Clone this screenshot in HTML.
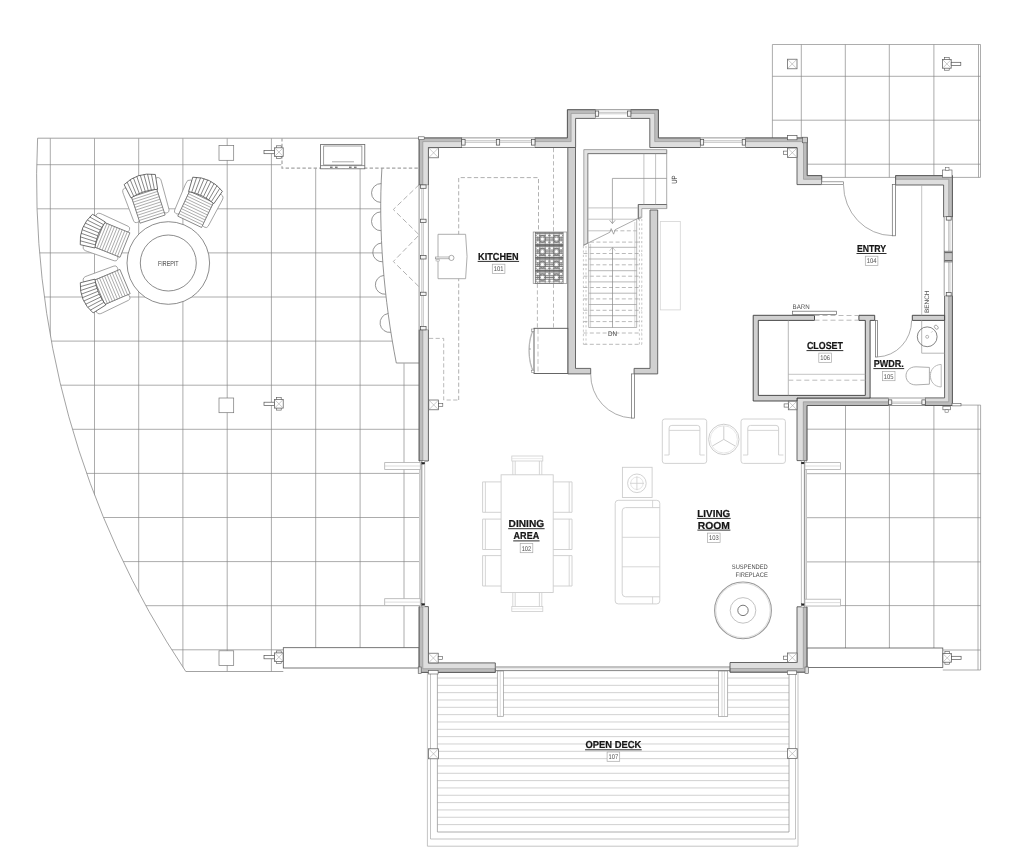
<!DOCTYPE html><html><head><meta charset="utf-8"><style>html,body{margin:0;padding:0;background:#fff}svg{display:block;filter:grayscale(1) blur(0.35px)}text{font-family:"Liberation Sans",sans-serif;text-rendering:geometricPrecision}</style></head><body><svg width="1030" height="866" viewBox="0 0 1030 866"><clipPath id="cpL"><path d="M37.6,138.2 L419,138.2 L419,672 L185.8,671.5 A883.2,883.2 0 0 1 37.6,138.2 Z"/></clipPath>
<g clip-path="url(#cpL)">
<line x1="50.3" y1="138.2" x2="50.3" y2="671.5" stroke="#848484" stroke-width="0.68" />
<line x1="94.5" y1="138.2" x2="94.5" y2="671.5" stroke="#848484" stroke-width="0.68" />
<line x1="138.7" y1="138.2" x2="138.7" y2="671.5" stroke="#848484" stroke-width="0.68" />
<line x1="182.9" y1="138.2" x2="182.9" y2="671.5" stroke="#848484" stroke-width="0.68" />
<line x1="227.2" y1="138.2" x2="227.2" y2="671.5" stroke="#848484" stroke-width="0.68" />
<line x1="271.4" y1="138.2" x2="271.4" y2="671.5" stroke="#848484" stroke-width="0.68" />
<line x1="315.7" y1="168.3" x2="315.7" y2="647.7" stroke="#848484" stroke-width="0.68" />
<line x1="360.1" y1="168.3" x2="360.1" y2="647.7" stroke="#848484" stroke-width="0.68" />
<line x1="404" y1="363.4" x2="404" y2="647.7" stroke="#848484" stroke-width="0.68" />
<line x1="0" y1="164.7" x2="281.3" y2="164.7" stroke="#848484" stroke-width="0.68" />
<line x1="0" y1="208.8" x2="380.72160435" y2="208.8" stroke="#848484" stroke-width="0.68" />
<line x1="0" y1="252.9" x2="382.19525760000005" y2="252.9" stroke="#848484" stroke-width="0.68" />
<line x1="0" y1="297" x2="386.0803344" y2="297" stroke="#848484" stroke-width="0.68" />
<line x1="0" y1="341.1" x2="392.31192765000003" y2="341.1" stroke="#848484" stroke-width="0.68" />
<line x1="0" y1="385.2" x2="419" y2="385.2" stroke="#848484" stroke-width="0.68" />
<line x1="0" y1="429.3" x2="419" y2="429.3" stroke="#848484" stroke-width="0.68" />
<line x1="0" y1="473.4" x2="419" y2="473.4" stroke="#848484" stroke-width="0.68" />
<line x1="0" y1="517.5" x2="419" y2="517.5" stroke="#848484" stroke-width="0.68" />
<line x1="0" y1="561.6" x2="419" y2="561.6" stroke="#848484" stroke-width="0.68" />
<line x1="0" y1="605.7" x2="419" y2="605.7" stroke="#848484" stroke-width="0.68" />
<line x1="0" y1="649.8" x2="283.3" y2="649.8" stroke="#848484" stroke-width="0.68" />
</g>
<path d="M419,138.2 L37.6,138.2 A883.2,883.2 0 0 0 185.8,671.5 L283.3,671.5" fill="none" stroke="#848484" stroke-width="0.75" />
<path d="M282,138.2 L282,168.2 L419,168.2" fill="none" stroke="#a4a4a4" stroke-width="1.2" stroke-dasharray="3.4 2.2"/>
<rect x="219.00" y="145.60" width="14.70" height="14.70" fill="#fff" stroke="#777" stroke-width="0.7" />
<rect x="219.00" y="398.00" width="14.70" height="14.70" fill="#fff" stroke="#777" stroke-width="0.7" />
<rect x="219.00" y="650.80" width="14.70" height="14.70" fill="#fff" stroke="#777" stroke-width="0.7" />
<rect x="276.60" y="145.80" width="4.60" height="12.60" fill="#fff" stroke="#555" stroke-width="0.6" />
<rect x="274.60" y="147.80" width="8.60" height="8.60" fill="#fff" stroke="#555" stroke-width="0.7" />
<line x1="274.6" y1="147.8" x2="283.20000000000005" y2="156.4" stroke="#999" stroke-width="0.5" />
<line x1="283.20000000000005" y1="147.8" x2="274.6" y2="156.4" stroke="#999" stroke-width="0.5" />
<rect x="264.00" y="150.50" width="10.60" height="3.20" fill="#fff" stroke="#555" stroke-width="0.7" />
<rect x="276.60" y="397.50" width="4.60" height="12.60" fill="#fff" stroke="#555" stroke-width="0.6" />
<rect x="274.60" y="399.50" width="8.60" height="8.60" fill="#fff" stroke="#555" stroke-width="0.7" />
<line x1="274.6" y1="399.5" x2="283.20000000000005" y2="408.1" stroke="#999" stroke-width="0.5" />
<line x1="283.20000000000005" y1="399.5" x2="274.6" y2="408.1" stroke="#999" stroke-width="0.5" />
<rect x="264.00" y="402.20" width="10.60" height="3.20" fill="#fff" stroke="#555" stroke-width="0.7" />
<rect x="276.60" y="650.90" width="4.60" height="12.60" fill="#fff" stroke="#555" stroke-width="0.6" />
<rect x="274.60" y="652.90" width="8.60" height="8.60" fill="#fff" stroke="#555" stroke-width="0.7" />
<line x1="274.6" y1="652.9" x2="283.20000000000005" y2="661.5" stroke="#999" stroke-width="0.5" />
<line x1="283.20000000000005" y1="652.9" x2="274.6" y2="661.5" stroke="#999" stroke-width="0.5" />
<rect x="264.00" y="655.60" width="10.60" height="3.20" fill="#fff" stroke="#555" stroke-width="0.7" />
<rect x="320.60" y="144.40" width="44.20" height="24.40" fill="#fff" stroke="#666" stroke-width="0.8" />
<rect x="323.70" y="146.00" width="38.20" height="19.00" fill="#fff" stroke="#777" stroke-width="0.7" />
<line x1="320.6" y1="165.6" x2="364.8" y2="165.6" stroke="#666" stroke-width="0.7" />
<line x1="332" y1="161.8" x2="354" y2="161.8" stroke="#aaa" stroke-width="1.0" />
<line x1="330" y1="167.2" x2="332.6" y2="167.2" stroke="#444" stroke-width="1.0" />
<line x1="335" y1="167.2" x2="337.6" y2="167.2" stroke="#444" stroke-width="1.0" />
<line x1="349" y1="167.2" x2="351.6" y2="167.2" stroke="#444" stroke-width="1.0" />
<line x1="354" y1="167.2" x2="356.6" y2="167.2" stroke="#444" stroke-width="1.0" />
<path d="M381.9,168.4 C378,230 384,300 396.3,363 L419.2,363" fill="none" stroke="#7a7a7a" stroke-width="0.8" />
<path d="M381.2,183.6 A9.4,9.4 0 0 0 380.7,202.4" fill="none" stroke="#7a7a7a" stroke-width="0.8" />
<path d="M380.7,211.9 A9.4,9.4 0 0 0 381.1,230.70000000000002" fill="none" stroke="#7a7a7a" stroke-width="0.8" />
<path d="M381.6,243.0 A9.4,9.4 0 0 0 382.8,261.8" fill="none" stroke="#7a7a7a" stroke-width="0.8" />
<path d="M383.9,275.40000000000003 A9.4,9.4 0 0 0 385.7,294.2" fill="none" stroke="#7a7a7a" stroke-width="0.8" />
<path d="M388.2,313.5 A9.4,9.4 0 0 0 390.9,332.29999999999995" fill="none" stroke="#7a7a7a" stroke-width="0.8" />
<path d="M419.2,184.6 L393.3,209.5 L419.2,234.9 L393.3,261.5 L419.2,286.9" fill="none" stroke="#b0b0b0" stroke-width="1.0" stroke-dasharray="5.4 2.8"/>
<rect x="283.30" y="647.70" width="135.90" height="20.30" fill="#fff" stroke="#555" stroke-width="0.8" />
<line x1="801.3" y1="44.5" x2="801.3" y2="138" stroke="#848484" stroke-width="0.68" />
<line x1="845.3" y1="44.5" x2="845.3" y2="177.4" stroke="#848484" stroke-width="0.68" />
<line x1="889.3" y1="44.5" x2="889.3" y2="177.4" stroke="#848484" stroke-width="0.68" />
<line x1="933.9" y1="44.5" x2="933.9" y2="175.6" stroke="#848484" stroke-width="0.68" />
<line x1="978.5" y1="44.5" x2="978.5" y2="177.4" stroke="#848484" stroke-width="0.68" />
<line x1="772.4" y1="76.3" x2="980.5" y2="76.3" stroke="#848484" stroke-width="0.68" />
<line x1="772.4" y1="120.2" x2="980.5" y2="120.2" stroke="#848484" stroke-width="0.68" />
<line x1="807.2" y1="164.2" x2="980.5" y2="164.2" stroke="#848484" stroke-width="0.68" />
<path d="M772.4,138 L772.4,44.5 L980.5,44.5 L980.5,177.4 L952.4,177.4" fill="none" stroke="#8a8a8a" stroke-width="0.7" />
<line x1="807.2" y1="177.4" x2="895.6" y2="177.4" stroke="#8a8a8a" stroke-width="0.7" />
<rect x="787.40" y="59.20" width="9.60" height="9.60" fill="#fff" stroke="#555" stroke-width="0.7" />
<line x1="787.4" y1="59.2" x2="797.0" y2="68.8" stroke="#999" stroke-width="0.5" />
<line x1="797.0" y1="59.2" x2="787.4" y2="68.8" stroke="#999" stroke-width="0.5" />
<rect x="944.60" y="57.60" width="4.60" height="12.60" fill="#fff" stroke="#555" stroke-width="0.6" />
<rect x="942.60" y="59.60" width="8.60" height="8.60" fill="#fff" stroke="#555" stroke-width="0.7" />
<line x1="942.6" y1="59.6" x2="951.2" y2="68.2" stroke="#999" stroke-width="0.5" />
<line x1="951.2" y1="59.6" x2="942.6" y2="68.2" stroke="#999" stroke-width="0.5" />
<rect x="951.20" y="62.30" width="9.60" height="3.20" fill="#fff" stroke="#555" stroke-width="0.7" />
<line x1="845.5" y1="405.5" x2="845.5" y2="648" stroke="#848484" stroke-width="0.68" />
<line x1="889.4" y1="405.5" x2="889.4" y2="648" stroke="#848484" stroke-width="0.68" />
<line x1="933.9" y1="405.5" x2="933.9" y2="648" stroke="#848484" stroke-width="0.68" />
<line x1="978.0" y1="405.1" x2="978.0" y2="670" stroke="#848484" stroke-width="0.68" />
<line x1="807" y1="429.2" x2="980.6" y2="429.2" stroke="#848484" stroke-width="0.68" />
<line x1="807" y1="473.7" x2="980.6" y2="473.7" stroke="#848484" stroke-width="0.68" />
<line x1="807" y1="517.7" x2="980.6" y2="517.7" stroke="#848484" stroke-width="0.68" />
<line x1="807" y1="561.9" x2="980.6" y2="561.9" stroke="#848484" stroke-width="0.68" />
<line x1="807" y1="605.6" x2="980.6" y2="605.6" stroke="#848484" stroke-width="0.68" />
<line x1="942.8" y1="650" x2="980.6" y2="650" stroke="#848484" stroke-width="0.68" />
<path d="M952.4,405.1 L980.6,405.1 L980.6,670 L942.8,670" fill="none" stroke="#8a8a8a" stroke-width="0.7" />
<rect x="806.80" y="648.00" width="136.00" height="19.60" fill="#fff" stroke="#555" stroke-width="0.8" />
<rect x="944.90" y="651.60" width="4.60" height="12.60" fill="#fff" stroke="#555" stroke-width="0.6" />
<rect x="942.90" y="653.60" width="8.60" height="8.60" fill="#fff" stroke="#555" stroke-width="0.7" />
<line x1="942.9" y1="653.6" x2="951.5" y2="662.2" stroke="#999" stroke-width="0.5" />
<line x1="951.5" y1="653.6" x2="942.9" y2="662.2" stroke="#999" stroke-width="0.5" />
<rect x="951.50" y="656.30" width="9.60" height="3.20" fill="#fff" stroke="#555" stroke-width="0.7" />
<line x1="437.4" y1="678.00" x2="789" y2="678.00" stroke="#b8b8b8" stroke-width="0.65" />
<line x1="437.4" y1="685.33" x2="789" y2="685.33" stroke="#b8b8b8" stroke-width="0.65" />
<line x1="437.4" y1="692.66" x2="789" y2="692.66" stroke="#b8b8b8" stroke-width="0.65" />
<line x1="437.4" y1="699.99" x2="789" y2="699.99" stroke="#b8b8b8" stroke-width="0.65" />
<line x1="437.4" y1="707.32" x2="789" y2="707.32" stroke="#b8b8b8" stroke-width="0.65" />
<line x1="437.4" y1="714.65" x2="789" y2="714.65" stroke="#b8b8b8" stroke-width="0.65" />
<line x1="437.4" y1="721.98" x2="789" y2="721.98" stroke="#b8b8b8" stroke-width="0.65" />
<line x1="437.4" y1="729.31" x2="789" y2="729.31" stroke="#b8b8b8" stroke-width="0.65" />
<line x1="437.4" y1="736.64" x2="789" y2="736.64" stroke="#b8b8b8" stroke-width="0.65" />
<line x1="437.4" y1="743.97" x2="789" y2="743.97" stroke="#b8b8b8" stroke-width="0.65" />
<line x1="437.4" y1="751.30" x2="789" y2="751.30" stroke="#b8b8b8" stroke-width="0.65" />
<line x1="437.4" y1="758.63" x2="789" y2="758.63" stroke="#b8b8b8" stroke-width="0.65" />
<line x1="437.4" y1="765.96" x2="789" y2="765.96" stroke="#b8b8b8" stroke-width="0.65" />
<line x1="437.4" y1="773.29" x2="789" y2="773.29" stroke="#b8b8b8" stroke-width="0.65" />
<line x1="437.4" y1="780.62" x2="789" y2="780.62" stroke="#b8b8b8" stroke-width="0.65" />
<line x1="437.4" y1="787.95" x2="789" y2="787.95" stroke="#b8b8b8" stroke-width="0.65" />
<line x1="437.4" y1="795.28" x2="789" y2="795.28" stroke="#b8b8b8" stroke-width="0.65" />
<line x1="437.4" y1="802.61" x2="789" y2="802.61" stroke="#b8b8b8" stroke-width="0.65" />
<line x1="437.4" y1="809.94" x2="789" y2="809.94" stroke="#b8b8b8" stroke-width="0.65" />
<line x1="437.4" y1="817.27" x2="789" y2="817.27" stroke="#b8b8b8" stroke-width="0.65" />
<line x1="437.4" y1="824.60" x2="789" y2="824.60" stroke="#b8b8b8" stroke-width="0.65" />
<path d="M437.4,672 L437.4,832 L789,832 L789,672" fill="none" stroke="#999" stroke-width="0.8" />
<path d="M430.5,672 L430.5,839 L795.5,839 L795.5,672" fill="none" stroke="#aaa" stroke-width="0.7" />
<path d="M427.4,672 L427.4,846.2 L798,846.2 L798,672" fill="none" stroke="#aaa" stroke-width="0.7" />
<rect x="497.30" y="671.00" width="6.10" height="45.30" fill="#fff" stroke="#999" stroke-width="0.7" />
<line x1="500.3" y1="671" x2="500.3" y2="716.3" stroke="#bbb" stroke-width="0.5" />
<rect x="718.60" y="671.00" width="9.10" height="45.40" fill="#fff" stroke="#999" stroke-width="0.7" />
<line x1="722" y1="671" x2="722" y2="716.4" stroke="#aaa" stroke-width="0.5" />
<line x1="724.4" y1="671" x2="724.4" y2="716.4" stroke="#aaa" stroke-width="0.5" />
<rect x="428.50" y="748.80" width="10.00" height="10.00" fill="#fff" stroke="#555" stroke-width="0.7" />
<line x1="428.5" y1="748.8" x2="438.5" y2="758.8" stroke="#999" stroke-width="0.5" />
<line x1="438.5" y1="748.8" x2="428.5" y2="758.8" stroke="#999" stroke-width="0.5" />
<rect x="787.40" y="748.70" width="9.80" height="9.80" fill="#fff" stroke="#555" stroke-width="0.7" />
<line x1="787.4" y1="748.7" x2="797.1999999999999" y2="758.5" stroke="#999" stroke-width="0.5" />
<line x1="797.1999999999999" y1="748.7" x2="787.4" y2="758.5" stroke="#999" stroke-width="0.5" />
<line x1="496" y1="667" x2="730" y2="667" stroke="#666" stroke-width="0.8" />
<line x1="496" y1="670.6" x2="730" y2="670.6" stroke="#666" stroke-width="0.8" />
<line x1="496" y1="668.8" x2="730" y2="668.8" stroke="#bbb" stroke-width="0.5" />
<polygon points="419.1,137.9 462,137.9 462,147.5 428.4,147.5 428.4,185.2 419.1,185.2" fill="#dedede" stroke="none" stroke-width="0" />
<polygon points="419.1,137.9 462,137.9 462,141.6 422.8,141.6 422.8,185.2 419.1,185.2" fill="#bcbcbc" stroke="#8c8c8c" stroke-width="0.6" />
<polygon points="419.1,137.9 462,137.9 462,147.5 428.4,147.5 428.4,185.2 419.1,185.2" fill="none" stroke="#4c4c4c" stroke-width="0.85" />
<polygon points="534.7,137.9 567.4,137.9 567.4,109.7 595.6,109.7 595.6,118.4 575.6,118.4 575.6,147.5 534.7,147.5" fill="#dedede" stroke="none" stroke-width="0" />
<polygon points="534.7,137.9 567.4,137.9 567.4,109.7 595.6,109.7 595.6,113.4 571.1,113.4 571.1,141.6 534.7,141.6" fill="#bcbcbc" stroke="#8c8c8c" stroke-width="0.6" />
<polygon points="534.7,137.9 567.4,137.9 567.4,109.7 595.6,109.7 595.6,118.4 575.6,118.4 575.6,147.5 534.7,147.5" fill="none" stroke="#4c4c4c" stroke-width="0.85" />
<polygon points="630.6,109.7 658.4,109.7 658.4,137.9 700.6,137.9 700.6,147.5 649.8,147.5 649.8,118.4 630.6,118.4" fill="#dedede" stroke="none" stroke-width="0" />
<polygon points="630.6,109.7 658.4,109.7 658.4,137.9 700.6,137.9 700.6,141.6 654.6999999999999,141.6 654.6999999999999,113.4 630.6,113.4" fill="#bcbcbc" stroke="#8c8c8c" stroke-width="0.6" />
<polygon points="630.6,109.7 658.4,109.7 658.4,137.9 700.6,137.9 700.6,147.5 649.8,147.5 649.8,118.4 630.6,118.4" fill="none" stroke="#4c4c4c" stroke-width="0.85" />
<polygon points="745.3,137.9 807.2,137.9 807.2,175.6 821.7,175.6 821.7,184.6 797,184.6 797,147.5 745.3,147.5" fill="#dedede" stroke="none" stroke-width="0" />
<polygon points="745.3,137.9 807.2,137.9 807.2,175.6 821.7,175.6 821.7,179.29999999999998 803.5,179.29999999999998 803.5,141.6 745.3,141.6" fill="#bcbcbc" stroke="#8c8c8c" stroke-width="0.6" />
<polygon points="745.3,137.9 807.2,137.9 807.2,175.6 821.7,175.6 821.7,184.6 797,184.6 797,147.5 745.3,147.5" fill="none" stroke="#4c4c4c" stroke-width="0.85" />
<polygon points="895.6,175.6 952.4,175.6 952.4,217 943.6,217 943.6,185 895.6,185" fill="#dedede" stroke="none" stroke-width="0" />
<polygon points="895.6,175.6 952.4,175.6 952.4,217 948.6999999999999,217 948.6999999999999,179.29999999999998 895.6,179.29999999999998" fill="#bcbcbc" stroke="#8c8c8c" stroke-width="0.6" />
<polygon points="895.6,175.6 952.4,175.6 952.4,217 943.6,217 943.6,185 895.6,185" fill="none" stroke="#4c4c4c" stroke-width="0.85" />
<polygon points="944.6,295.6 952.4,295.6 952.4,405.5 925,405.5 925,397.9 944.6,397.9" fill="#dedede" stroke="none" stroke-width="0" />
<polygon points="948.6999999999999,295.6 952.4,295.6 952.4,405.5 925,405.5 925,401.8 948.6999999999999,401.8" fill="#bcbcbc" stroke="#8c8c8c" stroke-width="0.6" />
<polygon points="944.6,295.6 952.4,295.6 952.4,405.5 925,405.5 925,397.9 944.6,397.9" fill="none" stroke="#4c4c4c" stroke-width="0.85" />
<polygon points="797,398 888.7,398 888.7,405.5 807,405.5 807,460.6 797,460.6" fill="#dedede" stroke="none" stroke-width="0" />
<polygon points="803.3,401.8 888.7,401.8 888.7,405.5 807,405.5 807,460.6 803.3,460.6" fill="#bcbcbc" stroke="#8c8c8c" stroke-width="0.6" />
<polygon points="797,398 888.7,398 888.7,405.5 807,405.5 807,460.6 797,460.6" fill="none" stroke="#4c4c4c" stroke-width="0.85" />
<polygon points="797,606.8 807,606.8 807,672.2 730,672.2 730,662.5 797,662.5" fill="#dedede" stroke="none" stroke-width="0" />
<polygon points="803.3,606.8 807,606.8 807,672.2 730,672.2 730,668.5 803.3,668.5" fill="#bcbcbc" stroke="#8c8c8c" stroke-width="0.6" />
<polygon points="797,606.8 807,606.8 807,672.2 730,672.2 730,662.5 797,662.5" fill="none" stroke="#4c4c4c" stroke-width="0.85" />
<polygon points="419.1,606.6 428.4,606.6 428.4,662.9 495.3,662.9 495.3,672.4 419.1,672.4" fill="#dedede" stroke="none" stroke-width="0" />
<polygon points="419.1,606.6 422.8,606.6 422.8,668.6999999999999 495.3,668.6999999999999 495.3,672.4 419.1,672.4" fill="#bcbcbc" stroke="#8c8c8c" stroke-width="0.6" />
<polygon points="419.1,606.6 428.4,606.6 428.4,662.9 495.3,662.9 495.3,672.4 419.1,672.4" fill="none" stroke="#4c4c4c" stroke-width="0.85" />
<polygon points="419.1,329.6 428.4,329.6 428.4,461 419.1,461" fill="#dedede" stroke="none" stroke-width="0" />
<polygon points="419.1,329.6 422.8,329.6 422.8,461 419.1,461" fill="#bcbcbc" stroke="#8c8c8c" stroke-width="0.6" />
<polygon points="419.1,329.6 428.4,329.6 428.4,461 419.1,461" fill="none" stroke="#4c4c4c" stroke-width="0.85" />
<polygon points="567.8,147.5 575.5,147.5 575.5,368.4 590.7,368.4 590.7,373.9 567.8,373.9" fill="#d0d0d0" stroke="#505050" stroke-width="0.85" />
<polygon points="650,210 657.7,210 657.7,373.9 634.1,373.9 634.1,368.4 650,368.4" fill="#d0d0d0" stroke="#505050" stroke-width="0.85" />
<polygon points="753.2,315.3 814.5,315.3 814.5,320.4 758.3,320.4 758.3,395.4 865.3,395.4 865.3,320.4 858.9,320.4 858.9,315.3 874.7,315.3 874.7,320.4 870.1,320.4 870.1,398 797,398 797,401 753.2,401" fill="#d0d0d0" stroke="#3a3a3a" stroke-width="0.9" />
<polygon points="912.3,315.3 944.6,315.3 944.6,320.4 912.3,320.4" fill="#d0d0d0" stroke="#3a3a3a" stroke-width="0.9" />
<rect x="462.00" y="137.90" width="72.70" height="9.60" fill="#fff" stroke="none" stroke-width="0" />
<line x1="462" y1="137.9" x2="534.7" y2="137.9" stroke="#666" stroke-width="0.7" />
<line x1="462" y1="147.5" x2="534.7" y2="147.5" stroke="#777" stroke-width="0.7" />
<line x1="462" y1="140.78" x2="534.7" y2="140.78" stroke="#999" stroke-width="0.6" />
<line x1="462" y1="142.412" x2="534.7" y2="142.412" stroke="#aaa" stroke-width="0.6" />
<rect x="496.30" y="139.34" width="3.40" height="5.76" fill="#f4f4f4" stroke="#4a4a4a" stroke-width="0.7" />
<rect x="461.70" y="139.34" width="3.40" height="5.76" fill="#f4f4f4" stroke="#4a4a4a" stroke-width="0.7" />
<rect x="531.60" y="139.34" width="3.40" height="5.76" fill="#f4f4f4" stroke="#4a4a4a" stroke-width="0.7" />
<rect x="595.60" y="109.70" width="35.00" height="8.70" fill="#fff" stroke="none" stroke-width="0" />
<line x1="595.6" y1="109.7" x2="630.6" y2="109.7" stroke="#666" stroke-width="0.7" />
<line x1="595.6" y1="118.4" x2="630.6" y2="118.4" stroke="#777" stroke-width="0.7" />
<line x1="595.6" y1="112.31" x2="630.6" y2="112.31" stroke="#999" stroke-width="0.6" />
<line x1="595.6" y1="113.789" x2="630.6" y2="113.789" stroke="#aaa" stroke-width="0.6" />
<rect x="595.30" y="111.01" width="3.40" height="5.22" fill="#f4f4f4" stroke="#4a4a4a" stroke-width="0.7" />
<rect x="627.50" y="111.01" width="3.40" height="5.22" fill="#f4f4f4" stroke="#4a4a4a" stroke-width="0.7" />
<rect x="700.60" y="137.90" width="44.70" height="9.60" fill="#fff" stroke="none" stroke-width="0" />
<line x1="700.6" y1="137.9" x2="745.3" y2="137.9" stroke="#666" stroke-width="0.7" />
<line x1="700.6" y1="147.5" x2="745.3" y2="147.5" stroke="#777" stroke-width="0.7" />
<line x1="700.6" y1="140.78" x2="745.3" y2="140.78" stroke="#999" stroke-width="0.6" />
<line x1="700.6" y1="142.412" x2="745.3" y2="142.412" stroke="#aaa" stroke-width="0.6" />
<rect x="700.30" y="139.34" width="3.40" height="5.76" fill="#f4f4f4" stroke="#4a4a4a" stroke-width="0.7" />
<rect x="742.20" y="139.34" width="3.40" height="5.76" fill="#f4f4f4" stroke="#4a4a4a" stroke-width="0.7" />
<rect x="888.70" y="398.00" width="36.30" height="7.50" fill="#fff" stroke="none" stroke-width="0" />
<line x1="888.7" y1="405.5" x2="925" y2="405.5" stroke="#666" stroke-width="0.7" />
<line x1="888.7" y1="398" x2="925" y2="398" stroke="#777" stroke-width="0.7" />
<line x1="888.7" y1="403.25" x2="925" y2="403.25" stroke="#999" stroke-width="0.6" />
<line x1="888.7" y1="401.975" x2="925" y2="401.975" stroke="#aaa" stroke-width="0.6" />
<rect x="888.40" y="399.88" width="3.40" height="4.50" fill="#f4f4f4" stroke="#4a4a4a" stroke-width="0.7" />
<rect x="921.90" y="399.88" width="3.40" height="4.50" fill="#f4f4f4" stroke="#4a4a4a" stroke-width="0.7" />
<rect x="419.10" y="185.20" width="9.30" height="144.40" fill="#fff" stroke="none" stroke-width="0" />
<line x1="419.1" y1="185.2" x2="419.1" y2="329.6" stroke="#666" stroke-width="0.7" />
<line x1="428.4" y1="185.2" x2="428.4" y2="329.6" stroke="#777" stroke-width="0.7" />
<line x1="421.89" y1="185.2" x2="421.89" y2="329.6" stroke="#999" stroke-width="0.6" />
<line x1="423.471" y1="185.2" x2="423.471" y2="329.6" stroke="#aaa" stroke-width="0.6" />
<rect x="420.50" y="219.20" width="5.58" height="3.40" fill="#f4f4f4" stroke="#4a4a4a" stroke-width="0.7" />
<rect x="420.50" y="255.60" width="5.58" height="3.40" fill="#f4f4f4" stroke="#4a4a4a" stroke-width="0.7" />
<rect x="420.50" y="292.20" width="5.58" height="3.40" fill="#f4f4f4" stroke="#4a4a4a" stroke-width="0.7" />
<rect x="420.50" y="184.90" width="5.58" height="3.40" fill="#f4f4f4" stroke="#4a4a4a" stroke-width="0.7" />
<rect x="420.50" y="326.50" width="5.58" height="3.40" fill="#f4f4f4" stroke="#4a4a4a" stroke-width="0.7" />
<rect x="419.70" y="461.00" width="5.00" height="145.60" fill="#fff" stroke="none" stroke-width="0" />
<line x1="419.7" y1="461" x2="419.7" y2="606.6" stroke="#a8a8a8" stroke-width="0.7" />
<line x1="424.7" y1="461" x2="424.7" y2="606.6" stroke="#a8a8a8" stroke-width="0.7" />
<line x1="421.8" y1="461" x2="421.8" y2="606.6" stroke="#707070" stroke-width="0.8" />
<line x1="420.33" y1="461" x2="420.33" y2="606.6" stroke="#b8b8b8" stroke-width="0.6" />
<rect x="421.80" y="462.30" width="2.90" height="1.80" fill="#222" stroke="#222" stroke-width="0.3" />
<rect x="421.80" y="603.50" width="2.90" height="1.80" fill="#222" stroke="#222" stroke-width="0.3" />
<rect x="801.40" y="460.80" width="5.00" height="146.00" fill="#fff" stroke="none" stroke-width="0" />
<line x1="806.4" y1="460.8" x2="806.4" y2="606.8" stroke="#a8a8a8" stroke-width="0.7" />
<line x1="801.4" y1="460.8" x2="801.4" y2="606.8" stroke="#a8a8a8" stroke-width="0.7" />
<line x1="804.4" y1="460.8" x2="804.4" y2="606.8" stroke="#707070" stroke-width="0.8" />
<line x1="805.8" y1="460.8" x2="805.8" y2="606.8" stroke="#b8b8b8" stroke-width="0.6" />
<rect x="801.40" y="462.10" width="3.00" height="1.80" fill="#222" stroke="#222" stroke-width="0.3" />
<rect x="801.40" y="603.70" width="3.00" height="1.80" fill="#222" stroke="#222" stroke-width="0.3" />
<rect x="384.70" y="462.60" width="35.60" height="6.80" fill="#fff" stroke="#b0b0b0" stroke-width="0.8" />
<line x1="384.7" y1="466.0" x2="420.3" y2="466.0" stroke="#c4c4c4" stroke-width="0.6" />
<rect x="384.70" y="598.70" width="35.60" height="6.80" fill="#fff" stroke="#b0b0b0" stroke-width="0.8" />
<line x1="384.7" y1="602.1" x2="420.3" y2="602.1" stroke="#c4c4c4" stroke-width="0.6" />
<rect x="804.90" y="462.60" width="35.60" height="6.80" fill="#fff" stroke="#b0b0b0" stroke-width="0.8" />
<line x1="804.9" y1="466.0" x2="840.5" y2="466.0" stroke="#c4c4c4" stroke-width="0.6" />
<rect x="804.90" y="599.20" width="35.60" height="6.80" fill="#fff" stroke="#b0b0b0" stroke-width="0.8" />
<line x1="804.9" y1="602.6" x2="840.5" y2="602.6" stroke="#c4c4c4" stroke-width="0.6" />
<rect x="944.20" y="217.00" width="8.20" height="78.60" fill="#fff" stroke="none" stroke-width="0" />
<line x1="952.4" y1="217" x2="952.4" y2="295.6" stroke="#666" stroke-width="0.7" />
<line x1="944.2" y1="217" x2="944.2" y2="295.6" stroke="#777" stroke-width="0.7" />
<line x1="949.94" y1="217" x2="949.94" y2="295.6" stroke="#999" stroke-width="0.6" />
<line x1="948.546" y1="217" x2="948.546" y2="295.6" stroke="#aaa" stroke-width="0.6" />
<rect x="946.25" y="216.70" width="4.92" height="3.40" fill="#f4f4f4" stroke="#4a4a4a" stroke-width="0.7" />
<rect x="946.25" y="292.50" width="4.92" height="3.40" fill="#f4f4f4" stroke="#4a4a4a" stroke-width="0.7" />
<rect x="944.60" y="251.20" width="7.60" height="10.80" fill="#c8c8c8" stroke="#777" stroke-width="0.7" />
<line x1="944.6" y1="252.6" x2="952.2" y2="252.6" stroke="#555" stroke-width="0.9" />
<line x1="944.6" y1="260.6" x2="952.2" y2="260.6" stroke="#555" stroke-width="0.9" />
<rect x="428.60" y="147.80" width="10.00" height="10.00" fill="#fff" stroke="#555" stroke-width="0.7" />
<line x1="428.6" y1="147.8" x2="438.6" y2="157.8" stroke="#999" stroke-width="0.5" />
<line x1="438.6" y1="147.8" x2="428.6" y2="157.8" stroke="#999" stroke-width="0.5" />
<rect x="787.60" y="148.00" width="9.40" height="9.40" fill="#fff" stroke="#555" stroke-width="0.7" />
<line x1="787.6" y1="148" x2="797.0" y2="157.4" stroke="#999" stroke-width="0.5" />
<line x1="797.0" y1="148" x2="787.6" y2="157.4" stroke="#999" stroke-width="0.5" />
<rect x="783.40" y="151.10" width="4.20" height="3.20" fill="#fff" stroke="#555" stroke-width="0.6" />
<rect x="428.80" y="400.00" width="9.80" height="9.80" fill="#fff" stroke="#555" stroke-width="0.7" />
<line x1="428.8" y1="400" x2="438.6" y2="409.8" stroke="#999" stroke-width="0.5" />
<line x1="438.6" y1="400" x2="428.8" y2="409.8" stroke="#999" stroke-width="0.5" />
<rect x="438.60" y="403.30" width="4.20" height="3.20" fill="#fff" stroke="#555" stroke-width="0.6" />
<rect x="788.30" y="401.20" width="8.60" height="8.60" fill="#fff" stroke="#555" stroke-width="0.7" />
<line x1="788.3" y1="401.2" x2="796.9" y2="409.8" stroke="#999" stroke-width="0.5" />
<line x1="796.9" y1="401.2" x2="788.3" y2="409.8" stroke="#999" stroke-width="0.5" />
<rect x="784.10" y="403.90" width="4.20" height="3.20" fill="#fff" stroke="#555" stroke-width="0.6" />
<rect x="428.50" y="653.20" width="9.70" height="9.70" fill="#fff" stroke="#555" stroke-width="0.7" />
<line x1="428.5" y1="653.2" x2="438.2" y2="662.9000000000001" stroke="#999" stroke-width="0.5" />
<line x1="438.2" y1="653.2" x2="428.5" y2="662.9000000000001" stroke="#999" stroke-width="0.5" />
<rect x="438.20" y="656.45" width="4.20" height="3.20" fill="#fff" stroke="#555" stroke-width="0.6" />
<rect x="787.60" y="653.00" width="9.40" height="9.40" fill="#fff" stroke="#555" stroke-width="0.7" />
<line x1="787.6" y1="653" x2="797.0" y2="662.4" stroke="#999" stroke-width="0.5" />
<line x1="797.0" y1="653" x2="787.6" y2="662.4" stroke="#999" stroke-width="0.5" />
<rect x="783.40" y="656.10" width="4.20" height="3.20" fill="#fff" stroke="#555" stroke-width="0.6" />
<rect x="787.60" y="135.60" width="9.40" height="4.20" fill="#fff" stroke="#555" stroke-width="0.7" />
<rect x="802.60" y="137.20" width="4.80" height="5.60" fill="#ccc" stroke="#555" stroke-width="0.6" />
<rect x="942.60" y="170.00" width="9.40" height="7.20" fill="#fff" stroke="#555" stroke-width="0.6" />
<rect x="945.40" y="167.60" width="3.60" height="2.60" fill="#fff" stroke="#555" stroke-width="0.5" />
<rect x="952.00" y="403.30" width="9.00" height="2.60" fill="#fff" stroke="#555" stroke-width="0.6" />
<rect x="942.90" y="406.20" width="7.40" height="3.60" fill="#fff" stroke="#555" stroke-width="0.6" />
<rect x="945.00" y="409.80" width="3.20" height="2.40" fill="#fff" stroke="#555" stroke-width="0.5" />
<rect x="428.50" y="670.60" width="9.60" height="3.40" fill="#fff" stroke="#555" stroke-width="0.6" />
<rect x="787.30" y="670.90" width="9.40" height="3.40" fill="#fff" stroke="#555" stroke-width="0.6" />
<rect x="418.60" y="136.80" width="5.60" height="2.80" fill="#fff" stroke="#555" stroke-width="0.6" />
<rect x="805.00" y="667.00" width="3.40" height="6.40" fill="#ddd" stroke="#555" stroke-width="0.6" />
<rect x="418.20" y="667.00" width="3.00" height="6.40" fill="#ddd" stroke="#555" stroke-width="0.6" />
<polygon points="583.8,149.6 666.7,149.6 666.7,153.6 587.8,153.6 587.8,243.2 583.8,245.2" fill="#e2e2e2" stroke="#8a8a8a" stroke-width="0.7" />
<line x1="587.8" y1="153.6" x2="666.7" y2="153.6" stroke="#777" stroke-width="0.9" />
<line x1="587.8" y1="153.6" x2="587.8" y2="243.2" stroke="#888" stroke-width="0.7" />
<line x1="666.7" y1="149.6" x2="666.7" y2="208.6" stroke="#888" stroke-width="0.7" />
<polygon points="638.3,204.5 666.7,204.5 666.7,208.6 641.8,208.6 641.8,217.6 638.3,219.2" fill="#e2e2e2" stroke="#888" stroke-width="0.7" />
<line x1="638.3" y1="204.5" x2="666.7" y2="204.5" stroke="#666" stroke-width="0.9" />
<line x1="638.3" y1="204.5" x2="638.3" y2="219.2" stroke="#666" stroke-width="0.9" />
<line x1="643.9" y1="153.6" x2="643.9" y2="204.5" stroke="#999" stroke-width="0.6" />
<line x1="655.6" y1="153.6" x2="655.6" y2="204.5" stroke="#999" stroke-width="0.6" />
<path d="M666.7,178.4 L612.4,178.4 L612.4,223.4" fill="none" stroke="#888" stroke-width="0.7" />
<path d="M609.6,220.2 L612.4,223.6 L615.2,220.2" fill="none" stroke="#888" stroke-width="0.7" />
<line x1="587.8" y1="207.9" x2="638.3" y2="207.9" stroke="#aaa" stroke-width="0.7" />
<line x1="587.8" y1="219.2" x2="637" y2="219.2" stroke="#aaa" stroke-width="0.7" />
<line x1="587.8" y1="230.8" x2="612.8" y2="230.8" stroke="#aaa" stroke-width="0.7" />
<line x1="614" y1="230.8" x2="636.5" y2="230.8" stroke="#aaa" stroke-width="0.8" stroke-dasharray="4 2.4"/>
<path d="M583,245.5 L609.8,232.3 L611.2,228.6 L613.6,234.2 L615.2,229.7 L641,216.9" fill="none" stroke="#888" stroke-width="0.7" />
<line x1="590" y1="242.1" x2="641.6" y2="242.1" stroke="#a8a8a8" stroke-width="0.8" stroke-dasharray="4 2.4"/>
<line x1="583.4" y1="253.5" x2="641.6" y2="253.5" stroke="#a8a8a8" stroke-width="0.8" stroke-dasharray="4 2.4"/>
<line x1="583.4" y1="264.8" x2="641.6" y2="264.8" stroke="#a8a8a8" stroke-width="0.8" stroke-dasharray="4 2.4"/>
<line x1="583.4" y1="276.2" x2="641.6" y2="276.2" stroke="#a8a8a8" stroke-width="0.8" stroke-dasharray="4 2.4"/>
<line x1="583.4" y1="287.5" x2="641.6" y2="287.5" stroke="#a8a8a8" stroke-width="0.8" stroke-dasharray="4 2.4"/>
<line x1="583.4" y1="298.9" x2="641.6" y2="298.9" stroke="#a8a8a8" stroke-width="0.8" stroke-dasharray="4 2.4"/>
<line x1="583.4" y1="310.3" x2="641.6" y2="310.3" stroke="#a8a8a8" stroke-width="0.8" stroke-dasharray="4 2.4"/>
<line x1="583.4" y1="321.6" x2="641.6" y2="321.6" stroke="#a8a8a8" stroke-width="0.8" stroke-dasharray="4 2.4"/>
<line x1="583.4" y1="333.0" x2="641.6" y2="333.0" stroke="#a8a8a8" stroke-width="0.8" stroke-dasharray="4 2.4"/>
<line x1="583.4" y1="344.3" x2="641.6" y2="344.3" stroke="#a8a8a8" stroke-width="0.8" stroke-dasharray="4 2.4"/>
<line x1="583.4" y1="246" x2="583.4" y2="344.3" stroke="#b0b0b0" stroke-width="0.7" stroke-dasharray="2.2 2.2"/>
<line x1="586.0" y1="246" x2="586.0" y2="344.3" stroke="#b0b0b0" stroke-width="0.7" stroke-dasharray="2.2 2.2"/>
<line x1="639.4" y1="219" x2="639.4" y2="344.3" stroke="#b0b0b0" stroke-width="0.7" stroke-dasharray="2.2 2.2"/>
<line x1="641.8" y1="219" x2="641.8" y2="344.3" stroke="#b0b0b0" stroke-width="0.7" stroke-dasharray="2.2 2.2"/>
<path d="M588.7,243.4 L588.7,327.5 L636.7,327.5 L636.7,219.5" fill="none" stroke="#999" stroke-width="0.7" />
<line x1="590.6" y1="244" x2="590.6" y2="327.5" stroke="#bbb" stroke-width="0.6" />
<line x1="634.8" y1="222" x2="634.8" y2="327.5" stroke="#bbb" stroke-width="0.6" />
<line x1="588.7" y1="247.3" x2="636.7" y2="247.3" stroke="#999" stroke-width="0.7" />
<line x1="588.7" y1="259" x2="636.7" y2="259" stroke="#999" stroke-width="0.7" />
<line x1="588.7" y1="270.7" x2="636.7" y2="270.7" stroke="#999" stroke-width="0.7" />
<line x1="588.7" y1="281.9" x2="636.7" y2="281.9" stroke="#999" stroke-width="0.7" />
<line x1="588.7" y1="293.2" x2="636.7" y2="293.2" stroke="#999" stroke-width="0.7" />
<line x1="588.7" y1="304.5" x2="636.7" y2="304.5" stroke="#999" stroke-width="0.7" />
<line x1="588.7" y1="315.7" x2="636.7" y2="315.7" stroke="#999" stroke-width="0.7" />
<line x1="612.5" y1="247.3" x2="612.5" y2="327.5" stroke="#888" stroke-width="0.7" />
<path d="M609.6,250.8 L612.5,247.3 L615.4,250.8" fill="none" stroke="#aaa" stroke-width="0.6" />
<text x="612.6" y="335.8" font-size="6.8" text-anchor="middle" fill="#3c3c3c" textLength="9" lengthAdjust="spacingAndGlyphs">DN</text>
<text transform="translate(677,179.6) rotate(-90)" font-size="7.6" text-anchor="middle" fill="#333" textLength="8.4" lengthAdjust="spacingAndGlyphs">UP</text>
<rect x="660.30" y="221.50" width="20.00" height="88.40" fill="none" stroke="#d4d4d4" stroke-width="0.8" />
<rect x="631.60" y="373.90" width="2.80" height="44.20" fill="#fff" stroke="#666" stroke-width="0.7" />
<path d="M590.7,373.9 A43,43.5 0 0 0 631.6,418" fill="none" stroke="#888" stroke-width="0.7" />
<rect x="892.30" y="184.60" width="3.20" height="51.20" fill="#fff" stroke="#666" stroke-width="0.7" />
<path d="M843.5,184.6 A49,51 0 0 0 892.3,235.6" fill="none" stroke="#888" stroke-width="0.7" />
<rect x="821.70" y="181.80" width="21.80" height="2.80" fill="#fff" stroke="#777" stroke-width="0.7" />
<rect x="875.40" y="320.40" width="2.20" height="36.60" fill="#fff" stroke="#666" stroke-width="0.7" />
<path d="M911.6,320.4 A35,36.4 0 0 1 877.6,356.9" fill="none" stroke="#888" stroke-width="0.7" />
<rect x="792.60" y="311.20" width="44.00" height="3.20" fill="#fff" stroke="#666" stroke-width="0.7" />
<line x1="814.5" y1="315.5" x2="858.9" y2="315.5" stroke="#aaa" stroke-width="0.8" stroke-dasharray="5 3"/>
<line x1="814.5" y1="320.2" x2="858.9" y2="320.2" stroke="#aaa" stroke-width="0.8" stroke-dasharray="5 3"/>
<text x="801.2" y="308.9" font-size="6.6" text-anchor="middle" fill="#555" textLength="17.2" lengthAdjust="spacingAndGlyphs">BARN</text>
<line x1="788.3" y1="320.4" x2="788.3" y2="395.4" stroke="#999" stroke-width="0.7" />
<line x1="788.3" y1="374.3" x2="865.3" y2="374.3" stroke="#aaa" stroke-width="0.7" />
<line x1="788.3" y1="380.2" x2="865.3" y2="380.2" stroke="#b4b4b4" stroke-width="0.9" stroke-dasharray="5 3"/>
<line x1="921.7" y1="185" x2="921.7" y2="315.3" stroke="#aaa" stroke-width="0.7" />
<text transform="translate(929.3,301.8) rotate(-90)" font-size="6.4" text-anchor="middle" fill="#555" textLength="22.6" lengthAdjust="spacingAndGlyphs">BENCH</text>
<path d="M921.7,320.4 L921.7,353.2 L944.6,353.2" fill="none" stroke="#999" stroke-width="0.7" />
<circle cx="927.2" cy="336.8" r="9.9" fill="none" stroke="#666" stroke-width="0.8" />
<circle cx="927.2" cy="336.8" r="1.5" fill="none" stroke="#888" stroke-width="0.6" />
<ellipse cx="936.3" cy="327.2" rx="1.6" ry="2.3" transform="rotate(-40 936.3 327.2)" fill="#fff" stroke="#777" stroke-width="0.6"/>
<line x1="931.2" y1="332.6" x2="932.6" y2="331.2" stroke="#999" stroke-width="0.6" />
<path d="M929.4,367.4 L916,366.8 C909,366.8 906,371.5 906,375.8 C906,380 909,384.9 916,384.9 L929.4,384.2 Z" fill="#fff" stroke="#999" stroke-width="0.8" />
<path d="M941.2,364.4 C934,364.8 930.4,370 930.4,375.7 C930.4,381.4 934,386.6 941.2,387 Z" fill="#fff" stroke="#aaa" stroke-width="0.8" />
<line x1="929.6" y1="372.5" x2="930.6" y2="372.5" stroke="#999" stroke-width="0.6" />
<line x1="929.6" y1="379" x2="930.6" y2="379" stroke="#999" stroke-width="0.6" />
<path d="M458.7,400 L458.7,177.6 L538.5,177.6 L538.5,231.5" fill="none" stroke="#a8a8a8" stroke-width="0.9" stroke-dasharray="4.2 2.4"/>
<line x1="553.5" y1="148" x2="553.5" y2="231.5" stroke="#a8a8a8" stroke-width="0.8" stroke-dasharray="4.2 2.4"/>
<line x1="537.4" y1="283.7" x2="537.4" y2="327.7" stroke="#a8a8a8" stroke-width="0.8" stroke-dasharray="4.2 2.4"/>
<line x1="553.5" y1="283.7" x2="553.5" y2="327.7" stroke="#a8a8a8" stroke-width="0.8" stroke-dasharray="4.2 2.4"/>
<path d="M429,338.4 L443.7,338.4 L443.7,400 L458.7,400" fill="none" stroke="#a8a8a8" stroke-width="0.8" stroke-dasharray="4.2 2.4"/>
<path d="M438,234.3 L465.6,234.3 A170,170 0 0 1 465.6,278.7 L438,278.7 Z" fill="#fff" stroke="#999" stroke-width="0.8" />
<circle cx="451.4" cy="257.9" r="2.6" fill="none" stroke="#888" stroke-width="0.7" />
<rect x="435.40" y="257.00" width="13.60" height="1.80" fill="#fff" stroke="#888" stroke-width="0.6" />
<rect x="436.00" y="259.40" width="3.60" height="1.60" fill="#fff" stroke="#999" stroke-width="0.5" />
<rect x="533.20" y="232.00" width="33.60" height="51.60" fill="#fff" stroke="#888" stroke-width="0.7" />
<rect x="535.30" y="232.50" width="27.80" height="50.80" fill="#e9e9e9" stroke="#666" stroke-width="0.7" />
<g stroke="#6a6a6a" stroke-width="0.8" fill="none">
<line x1="535.3" y1="233.60" x2="563.1" y2="233.60"/>
<line x1="535.3" y1="235.43" x2="563.1" y2="235.43"/>
<line x1="535.3" y1="237.26" x2="563.1" y2="237.26"/>
<line x1="535.3" y1="239.09" x2="563.1" y2="239.09"/>
<line x1="535.3" y1="240.92" x2="563.1" y2="240.92"/>
<line x1="535.3" y1="242.75" x2="563.1" y2="242.75"/>
<line x1="535.3" y1="244.58" x2="563.1" y2="244.58"/>
<line x1="535.3" y1="246.41" x2="563.1" y2="246.41"/>
<line x1="535.3" y1="248.24" x2="563.1" y2="248.24"/>
<line x1="535.3" y1="250.07" x2="563.1" y2="250.07"/>
<line x1="535.3" y1="251.90" x2="563.1" y2="251.90"/>
<line x1="535.3" y1="253.73" x2="563.1" y2="253.73"/>
<line x1="535.3" y1="255.56" x2="563.1" y2="255.56"/>
<line x1="535.3" y1="257.39" x2="563.1" y2="257.39"/>
<line x1="535.3" y1="259.22" x2="563.1" y2="259.22"/>
<line x1="535.3" y1="261.05" x2="563.1" y2="261.05"/>
<line x1="535.3" y1="262.88" x2="563.1" y2="262.88"/>
<line x1="535.3" y1="264.71" x2="563.1" y2="264.71"/>
<line x1="535.3" y1="266.54" x2="563.1" y2="266.54"/>
<line x1="535.3" y1="268.37" x2="563.1" y2="268.37"/>
<line x1="535.3" y1="270.20" x2="563.1" y2="270.20"/>
<line x1="535.3" y1="272.03" x2="563.1" y2="272.03"/>
<line x1="535.3" y1="273.86" x2="563.1" y2="273.86"/>
<line x1="535.3" y1="275.69" x2="563.1" y2="275.69"/>
<line x1="535.3" y1="277.52" x2="563.1" y2="277.52"/>
<line x1="535.3" y1="279.35" x2="563.1" y2="279.35"/>
<line x1="535.3" y1="281.18" x2="563.1" y2="281.18"/>
<line x1="537.6" y1="232.5" x2="537.6" y2="283.3" stroke="#777" stroke-width="0.6"/>
<line x1="539.8" y1="232.5" x2="539.8" y2="283.3" stroke="#777" stroke-width="0.6"/>
<line x1="545.2" y1="232.5" x2="545.2" y2="283.3" stroke="#777" stroke-width="0.6"/>
<line x1="549.4" y1="232.5" x2="549.4" y2="283.3" stroke="#777" stroke-width="0.6"/>
<line x1="553.8" y1="232.5" x2="553.8" y2="283.3" stroke="#777" stroke-width="0.6"/>
<line x1="559.2" y1="232.5" x2="559.2" y2="283.3" stroke="#777" stroke-width="0.6"/>
<line x1="561.2" y1="232.5" x2="561.2" y2="283.3" stroke="#777" stroke-width="0.6"/>
<line x1="535.3" y1="245.2" x2="563.1" y2="245.2" stroke="#555" stroke-width="1.1"/>
<line x1="535.3" y1="258" x2="563.1" y2="258" stroke="#555" stroke-width="1.1"/>
<line x1="535.3" y1="270.9" x2="563.1" y2="270.9" stroke="#555" stroke-width="1.1"/>
</g>
<circle cx="542.4" cy="238.9" r="3.3" fill="none" stroke="#666" stroke-width="0.7"/>
<circle cx="542.4" cy="238.9" r="1.5" fill="#fff" stroke="none"/>
<rect x="536.7" y="234.6" width="2.2" height="1.8" fill="#fff" stroke="none"/>
<rect x="545.9" y="234.6" width="2.2" height="1.8" fill="#fff" stroke="none"/>
<rect x="536.7" y="241.4" width="2.2" height="1.8" fill="#fff" stroke="none"/>
<rect x="545.9" y="241.4" width="2.2" height="1.8" fill="#fff" stroke="none"/>
<circle cx="556.4" cy="238.9" r="3.3" fill="none" stroke="#666" stroke-width="0.7"/>
<circle cx="556.4" cy="238.9" r="1.5" fill="#fff" stroke="none"/>
<rect x="550.7" y="234.6" width="2.2" height="1.8" fill="#fff" stroke="none"/>
<rect x="559.9" y="234.6" width="2.2" height="1.8" fill="#fff" stroke="none"/>
<rect x="550.7" y="241.4" width="2.2" height="1.8" fill="#fff" stroke="none"/>
<rect x="559.9" y="241.4" width="2.2" height="1.8" fill="#fff" stroke="none"/>
<circle cx="542.4" cy="251.6" r="3.3" fill="none" stroke="#666" stroke-width="0.7"/>
<circle cx="542.4" cy="251.6" r="1.5" fill="#fff" stroke="none"/>
<rect x="536.7" y="247.3" width="2.2" height="1.8" fill="#fff" stroke="none"/>
<rect x="545.9" y="247.3" width="2.2" height="1.8" fill="#fff" stroke="none"/>
<rect x="536.7" y="254.1" width="2.2" height="1.8" fill="#fff" stroke="none"/>
<rect x="545.9" y="254.1" width="2.2" height="1.8" fill="#fff" stroke="none"/>
<circle cx="556.4" cy="251.6" r="3.3" fill="none" stroke="#666" stroke-width="0.7"/>
<circle cx="556.4" cy="251.6" r="1.5" fill="#fff" stroke="none"/>
<rect x="550.7" y="247.3" width="2.2" height="1.8" fill="#fff" stroke="none"/>
<rect x="559.9" y="247.3" width="2.2" height="1.8" fill="#fff" stroke="none"/>
<rect x="550.7" y="254.1" width="2.2" height="1.8" fill="#fff" stroke="none"/>
<rect x="559.9" y="254.1" width="2.2" height="1.8" fill="#fff" stroke="none"/>
<circle cx="542.4" cy="264.5" r="3.3" fill="none" stroke="#666" stroke-width="0.7"/>
<circle cx="542.4" cy="264.5" r="1.5" fill="#fff" stroke="none"/>
<rect x="536.7" y="260.2" width="2.2" height="1.8" fill="#fff" stroke="none"/>
<rect x="545.9" y="260.2" width="2.2" height="1.8" fill="#fff" stroke="none"/>
<rect x="536.7" y="267.0" width="2.2" height="1.8" fill="#fff" stroke="none"/>
<rect x="545.9" y="267.0" width="2.2" height="1.8" fill="#fff" stroke="none"/>
<circle cx="556.4" cy="264.5" r="3.3" fill="none" stroke="#666" stroke-width="0.7"/>
<circle cx="556.4" cy="264.5" r="1.5" fill="#fff" stroke="none"/>
<rect x="550.7" y="260.2" width="2.2" height="1.8" fill="#fff" stroke="none"/>
<rect x="559.9" y="260.2" width="2.2" height="1.8" fill="#fff" stroke="none"/>
<rect x="550.7" y="267.0" width="2.2" height="1.8" fill="#fff" stroke="none"/>
<rect x="559.9" y="267.0" width="2.2" height="1.8" fill="#fff" stroke="none"/>
<circle cx="542.4" cy="277.3" r="3.3" fill="none" stroke="#666" stroke-width="0.7"/>
<circle cx="542.4" cy="277.3" r="1.5" fill="#fff" stroke="none"/>
<rect x="536.7" y="273.0" width="2.2" height="1.8" fill="#fff" stroke="none"/>
<rect x="545.9" y="273.0" width="2.2" height="1.8" fill="#fff" stroke="none"/>
<rect x="536.7" y="279.8" width="2.2" height="1.8" fill="#fff" stroke="none"/>
<rect x="545.9" y="279.8" width="2.2" height="1.8" fill="#fff" stroke="none"/>
<circle cx="556.4" cy="277.3" r="3.3" fill="none" stroke="#666" stroke-width="0.7"/>
<circle cx="556.4" cy="277.3" r="1.5" fill="#fff" stroke="none"/>
<rect x="550.7" y="273.0" width="2.2" height="1.8" fill="#fff" stroke="none"/>
<rect x="559.9" y="273.0" width="2.2" height="1.8" fill="#fff" stroke="none"/>
<rect x="550.7" y="279.8" width="2.2" height="1.8" fill="#fff" stroke="none"/>
<rect x="559.9" y="279.8" width="2.2" height="1.8" fill="#fff" stroke="none"/>
<rect x="534.00" y="328.30" width="33.80" height="45.20" fill="#fff" stroke="#555" stroke-width="0.9" />
<line x1="538" y1="329" x2="538" y2="372.5" stroke="#aaa" stroke-width="0.7" stroke-dasharray="5 2.5"/>
<path d="M534,329 C527.5,340 527.5,361 534,372.4" fill="none" stroke="#888" stroke-width="0.7" />
<path d="M532.2,331 C527.8,342 527.8,359 532.2,370.4" fill="none" stroke="#bbb" stroke-width="0.6" />
<rect x="531.40" y="329.00" width="2.60" height="2.20" fill="#fff" stroke="#777" stroke-width="0.5" />
<rect x="531.40" y="370.20" width="2.60" height="2.20" fill="#fff" stroke="#777" stroke-width="0.5" />
<line x1="529.2" y1="349" x2="531" y2="349" stroke="#777" stroke-width="0.6" />
<rect x="662.30" y="419.00" width="44.40" height="44.40" fill="none" stroke="#cdcdcd" stroke-width="0.9" rx="2.5"/>
<path d="M669.0999999999999,455 L669.0999999999999,428 Q669.0999999999999,425.4 671.8,425.4 L697.3,425.4 Q699.9,425.4 699.9,428 L699.9,455" fill="none" stroke="#cdcdcd" stroke-width="0.9" />
<path d="M669.0999999999999,455 L664.3,455 M699.9,455 L704.6999999999999,455" fill="none" stroke="#cdcdcd" stroke-width="0.8" />
<line x1="669.0999999999999" y1="430.4" x2="699.9" y2="430.4" stroke="#cdcdcd" stroke-width="0.8" />
<rect x="741.00" y="419.00" width="44.40" height="44.40" fill="none" stroke="#cdcdcd" stroke-width="0.9" rx="2.5"/>
<path d="M747.8,455 L747.8,428 Q747.8,425.4 750.5,425.4 L776,425.4 Q778.6,425.4 778.6,428 L778.6,455" fill="none" stroke="#cdcdcd" stroke-width="0.9" />
<path d="M747.8,455 L743,455 M778.6,455 L783.4,455" fill="none" stroke="#cdcdcd" stroke-width="0.8" />
<line x1="747.8" y1="430.4" x2="778.6" y2="430.4" stroke="#cdcdcd" stroke-width="0.8" />
<circle cx="723.8" cy="439.4" r="15.2" fill="none" stroke="#cdcdcd" stroke-width="1.0" />
<circle cx="723.8" cy="439.4" r="13.6" fill="none" stroke="#dcdcdc" stroke-width="0.7" />
<line x1="723.8" y1="439.4" x2="723.8" y2="426.2" stroke="#cdcdcd" stroke-width="1.0" />
<line x1="723.8" y1="439.4" x2="735.2" y2="446.0" stroke="#cdcdcd" stroke-width="1.0" />
<line x1="723.8" y1="439.4" x2="712.4" y2="446.0" stroke="#cdcdcd" stroke-width="1.0" />
<rect x="622.40" y="467.30" width="29.70" height="30.20" fill="none" stroke="#cdcdcd" stroke-width="0.9" />
<circle cx="636.9" cy="483.3" r="9.3" fill="none" stroke="#cdcdcd" stroke-width="0.9" />
<circle cx="636.9" cy="483.3" r="6.2" fill="none" stroke="#dadada" stroke-width="0.7" />
<line x1="630" y1="483.3" x2="644" y2="483.3" stroke="#cdcdcd" stroke-width="0.8" />
<line x1="636.9" y1="476.4" x2="636.9" y2="490.2" stroke="#cdcdcd" stroke-width="0.8" />
<rect x="615.20" y="500.30" width="44.60" height="103.60" fill="none" stroke="#cdcdcd" stroke-width="0.9" rx="3"/>
<path d="M659.8,507.6 L625.6,507.6 Q622.2,507.6 622.2,511 L622.2,593.4 Q622.2,596.8 625.6,596.8 L659.8,596.8" fill="none" stroke="#cdcdcd" stroke-width="0.9" />
<path d="M652.6,500.3 L652.6,507.6 M652.6,596.8 L652.6,603.9" fill="none" stroke="#cdcdcd" stroke-width="0.8" />
<line x1="622.2" y1="537.3" x2="659.8" y2="537.3" stroke="#cdcdcd" stroke-width="0.8" />
<line x1="622.2" y1="566.8" x2="659.8" y2="566.8" stroke="#cdcdcd" stroke-width="0.8" />
<rect x="501.10" y="474.80" width="52.10" height="117.70" fill="#fff" stroke="#cdcdcd" stroke-width="0.9" />
<rect x="511.80" y="456.00" width="31.00" height="5.00" fill="none" stroke="#cdcdcd" stroke-width="0.8" />
<path d="M512.8,461 L512.8,474.8 M515.2,461 L515.2,474.8 M539.4,461 L539.4,474.8 M541.8,461 L541.8,474.8" fill="none" stroke="#cdcdcd" stroke-width="0.8" />
<line x1="511.8" y1="458.6" x2="542.8" y2="458.6" stroke="#ddd" stroke-width="0.6" />
<rect x="511.80" y="606.50" width="31.00" height="5.00" fill="none" stroke="#cdcdcd" stroke-width="0.8" />
<path d="M512.8,592.5 L512.8,606.5 M515.2,592.5 L515.2,606.5 M539.4,592.5 L539.4,606.5 M541.8,592.5 L541.8,606.5" fill="none" stroke="#cdcdcd" stroke-width="0.8" />
<line x1="511.8" y1="608.9" x2="542.8" y2="608.9" stroke="#ddd" stroke-width="0.6" />
<path d="M501.1,481.9 L482.6,481.9 L482.6,512.3 L501.1,512.3" fill="none" stroke="#cdcdcd" stroke-width="0.9" />
<line x1="485.40000000000003" y1="481.9" x2="485.40000000000003" y2="512.3" stroke="#cdcdcd" stroke-width="0.8" />
<path d="M553.2,481.9 L572.0,481.9 L572.0,512.3 L553.2,512.3" fill="none" stroke="#cdcdcd" stroke-width="0.9" />
<line x1="569.2" y1="481.9" x2="569.2" y2="512.3" stroke="#cdcdcd" stroke-width="0.8" />
<path d="M501.1,519.1 L482.6,519.1 L482.6,549.5 L501.1,549.5" fill="none" stroke="#cdcdcd" stroke-width="0.9" />
<line x1="485.40000000000003" y1="519.1" x2="485.40000000000003" y2="549.5" stroke="#cdcdcd" stroke-width="0.8" />
<path d="M553.2,519.1 L572.0,519.1 L572.0,549.5 L553.2,549.5" fill="none" stroke="#cdcdcd" stroke-width="0.9" />
<line x1="569.2" y1="519.1" x2="569.2" y2="549.5" stroke="#cdcdcd" stroke-width="0.8" />
<path d="M501.1,555.6 L482.6,555.6 L482.6,586.0 L501.1,586.0" fill="none" stroke="#cdcdcd" stroke-width="0.9" />
<line x1="485.40000000000003" y1="555.6" x2="485.40000000000003" y2="586.0" stroke="#cdcdcd" stroke-width="0.8" />
<path d="M553.2,555.6 L572.0,555.6 L572.0,586.0 L553.2,586.0" fill="none" stroke="#cdcdcd" stroke-width="0.9" />
<line x1="569.2" y1="555.6" x2="569.2" y2="586.0" stroke="#cdcdcd" stroke-width="0.8" />
<circle cx="743" cy="610.4" r="28.4" fill="none" stroke="#9a9a9a" stroke-width="1.1" />
<circle cx="743" cy="610.4" r="27.2" fill="none" stroke="#c8c8c8" stroke-width="0.6" />
<circle cx="743" cy="610.4" r="12.8" fill="none" stroke="#b4b4b4" stroke-width="0.8" />
<circle cx="743" cy="610.4" r="5.2" fill="none" stroke="#555" stroke-width="0.8" />
<circle cx="168.3" cy="263" r="41.3" fill="#fff" stroke="#666" stroke-width="0.75" />
<circle cx="168.3" cy="263" r="28" fill="#fff" stroke="#666" stroke-width="0.75" />
<text x="168.3" y="265.7" font-size="7.4" text-anchor="middle" fill="#444" textLength="20.6" lengthAdjust="spacingAndGlyphs">FIREPIT</text>
<g transform="translate(145.6,197.6) rotate(-18)" fill="#fff" stroke="#555" stroke-width="0.7">
<path d="M-20,-10 Q-20.6,-15 -17,-15.5 L-13.6,-14.5 L-12.6,18.5 Q-12.6,21 -15,21 L-16.2,21 Q-18.4,21 -18.6,18.5 Z" stroke="#8a8a8a"/>
<path d="M20,-10 Q20.6,-15 17,-15.5 L13.6,-14.5 L12.6,18.5 Q12.6,21 15,21 L16.2,21 Q18.4,21 18.6,18.5 Z" stroke="#8a8a8a"/>
<rect x="-13.2" y="-5" width="26.4" height="27.6" stroke="#666"/>
<line x1="-13.2" y1="-2.2" x2="13.2" y2="-2.2" stroke="#777" stroke-width="0.55"/>
<line x1="-13.2" y1="0.5" x2="13.2" y2="0.5" stroke="#777" stroke-width="0.55"/>
<line x1="-13.2" y1="3.3" x2="13.2" y2="3.3" stroke="#777" stroke-width="0.55"/>
<line x1="-13.2" y1="6.0" x2="13.2" y2="6.0" stroke="#777" stroke-width="0.55"/>
<line x1="-13.2" y1="8.8" x2="13.2" y2="8.8" stroke="#777" stroke-width="0.55"/>
<line x1="-13.2" y1="11.6" x2="13.2" y2="11.6" stroke="#777" stroke-width="0.55"/>
<line x1="-13.2" y1="14.3" x2="13.2" y2="14.3" stroke="#777" stroke-width="0.55"/>
<line x1="-13.2" y1="17.1" x2="13.2" y2="17.1" stroke="#777" stroke-width="0.55"/>
<line x1="-13.2" y1="19.8" x2="13.2" y2="19.8" stroke="#777" stroke-width="0.55"/>
<path d="M-14,-4.2 L-16.4,-19 Q0,-27 16.4,-19 L14,-4.2 Q0,-8 -14,-4.2 Z" stroke="#444"/>
<line x1="-12.8" y1="-20.6" x2="-10.9" y2="-5.0" stroke="#555" stroke-width="0.65"/>
<line x1="-9.1" y1="-21.8" x2="-7.8" y2="-5.5" stroke="#555" stroke-width="0.65"/>
<line x1="-5.5" y1="-22.6" x2="-4.7" y2="-5.9" stroke="#555" stroke-width="0.65"/>
<line x1="-1.8" y1="-23.0" x2="-1.6" y2="-6.1" stroke="#555" stroke-width="0.65"/>
<line x1="1.8" y1="-23.0" x2="1.6" y2="-6.1" stroke="#555" stroke-width="0.65"/>
<line x1="5.5" y1="-22.6" x2="4.7" y2="-5.9" stroke="#555" stroke-width="0.65"/>
<line x1="9.1" y1="-21.8" x2="7.8" y2="-5.5" stroke="#555" stroke-width="0.65"/>
<line x1="12.8" y1="-20.6" x2="10.9" y2="-5.0" stroke="#555" stroke-width="0.65"/>
</g>
<g transform="translate(199.4,201.4) rotate(25.5)" fill="#fff" stroke="#555" stroke-width="0.7">
<path d="M-20,-10 Q-20.6,-15 -17,-15.5 L-13.6,-14.5 L-12.6,18.5 Q-12.6,21 -15,21 L-16.2,21 Q-18.4,21 -18.6,18.5 Z" stroke="#8a8a8a"/>
<path d="M20,-10 Q20.6,-15 17,-15.5 L13.6,-14.5 L12.6,18.5 Q12.6,21 15,21 L16.2,21 Q18.4,21 18.6,18.5 Z" stroke="#8a8a8a"/>
<rect x="-13.2" y="-5" width="26.4" height="27.6" stroke="#666"/>
<line x1="-13.2" y1="-2.2" x2="13.2" y2="-2.2" stroke="#777" stroke-width="0.55"/>
<line x1="-13.2" y1="0.5" x2="13.2" y2="0.5" stroke="#777" stroke-width="0.55"/>
<line x1="-13.2" y1="3.3" x2="13.2" y2="3.3" stroke="#777" stroke-width="0.55"/>
<line x1="-13.2" y1="6.0" x2="13.2" y2="6.0" stroke="#777" stroke-width="0.55"/>
<line x1="-13.2" y1="8.8" x2="13.2" y2="8.8" stroke="#777" stroke-width="0.55"/>
<line x1="-13.2" y1="11.6" x2="13.2" y2="11.6" stroke="#777" stroke-width="0.55"/>
<line x1="-13.2" y1="14.3" x2="13.2" y2="14.3" stroke="#777" stroke-width="0.55"/>
<line x1="-13.2" y1="17.1" x2="13.2" y2="17.1" stroke="#777" stroke-width="0.55"/>
<line x1="-13.2" y1="19.8" x2="13.2" y2="19.8" stroke="#777" stroke-width="0.55"/>
<path d="M-14,-4.2 L-16.4,-19 Q0,-27 16.4,-19 L14,-4.2 Q0,-8 -14,-4.2 Z" stroke="#444"/>
<line x1="-12.8" y1="-20.6" x2="-10.9" y2="-5.0" stroke="#555" stroke-width="0.65"/>
<line x1="-9.1" y1="-21.8" x2="-7.8" y2="-5.5" stroke="#555" stroke-width="0.65"/>
<line x1="-5.5" y1="-22.6" x2="-4.7" y2="-5.9" stroke="#555" stroke-width="0.65"/>
<line x1="-1.8" y1="-23.0" x2="-1.6" y2="-6.1" stroke="#555" stroke-width="0.65"/>
<line x1="1.8" y1="-23.0" x2="1.6" y2="-6.1" stroke="#555" stroke-width="0.65"/>
<line x1="5.5" y1="-22.6" x2="4.7" y2="-5.9" stroke="#555" stroke-width="0.65"/>
<line x1="9.1" y1="-21.8" x2="7.8" y2="-5.5" stroke="#555" stroke-width="0.65"/>
<line x1="12.8" y1="-20.6" x2="10.9" y2="-5.0" stroke="#555" stroke-width="0.65"/>
</g>
<g transform="translate(104,236.6) rotate(-68)" fill="#fff" stroke="#555" stroke-width="0.7">
<path d="M-20,-10 Q-20.6,-15 -17,-15.5 L-13.6,-14.5 L-12.6,18.5 Q-12.6,21 -15,21 L-16.2,21 Q-18.4,21 -18.6,18.5 Z" stroke="#8a8a8a"/>
<path d="M20,-10 Q20.6,-15 17,-15.5 L13.6,-14.5 L12.6,18.5 Q12.6,21 15,21 L16.2,21 Q18.4,21 18.6,18.5 Z" stroke="#8a8a8a"/>
<rect x="-13.2" y="-5" width="26.4" height="27.6" stroke="#666"/>
<line x1="-13.2" y1="-2.2" x2="13.2" y2="-2.2" stroke="#777" stroke-width="0.55"/>
<line x1="-13.2" y1="0.5" x2="13.2" y2="0.5" stroke="#777" stroke-width="0.55"/>
<line x1="-13.2" y1="3.3" x2="13.2" y2="3.3" stroke="#777" stroke-width="0.55"/>
<line x1="-13.2" y1="6.0" x2="13.2" y2="6.0" stroke="#777" stroke-width="0.55"/>
<line x1="-13.2" y1="8.8" x2="13.2" y2="8.8" stroke="#777" stroke-width="0.55"/>
<line x1="-13.2" y1="11.6" x2="13.2" y2="11.6" stroke="#777" stroke-width="0.55"/>
<line x1="-13.2" y1="14.3" x2="13.2" y2="14.3" stroke="#777" stroke-width="0.55"/>
<line x1="-13.2" y1="17.1" x2="13.2" y2="17.1" stroke="#777" stroke-width="0.55"/>
<line x1="-13.2" y1="19.8" x2="13.2" y2="19.8" stroke="#777" stroke-width="0.55"/>
<path d="M-14,-4.2 L-16.4,-19 Q0,-27 16.4,-19 L14,-4.2 Q0,-8 -14,-4.2 Z" stroke="#444"/>
<line x1="-12.8" y1="-20.6" x2="-10.9" y2="-5.0" stroke="#555" stroke-width="0.65"/>
<line x1="-9.1" y1="-21.8" x2="-7.8" y2="-5.5" stroke="#555" stroke-width="0.65"/>
<line x1="-5.5" y1="-22.6" x2="-4.7" y2="-5.9" stroke="#555" stroke-width="0.65"/>
<line x1="-1.8" y1="-23.0" x2="-1.6" y2="-6.1" stroke="#555" stroke-width="0.65"/>
<line x1="1.8" y1="-23.0" x2="1.6" y2="-6.1" stroke="#555" stroke-width="0.65"/>
<line x1="5.5" y1="-22.6" x2="4.7" y2="-5.9" stroke="#555" stroke-width="0.65"/>
<line x1="9.1" y1="-21.8" x2="7.8" y2="-5.5" stroke="#555" stroke-width="0.65"/>
<line x1="12.8" y1="-20.6" x2="10.9" y2="-5.0" stroke="#555" stroke-width="0.65"/>
</g>
<g transform="translate(104.2,290.4) rotate(-113)" fill="#fff" stroke="#555" stroke-width="0.7">
<path d="M-20,-10 Q-20.6,-15 -17,-15.5 L-13.6,-14.5 L-12.6,18.5 Q-12.6,21 -15,21 L-16.2,21 Q-18.4,21 -18.6,18.5 Z" stroke="#8a8a8a"/>
<path d="M20,-10 Q20.6,-15 17,-15.5 L13.6,-14.5 L12.6,18.5 Q12.6,21 15,21 L16.2,21 Q18.4,21 18.6,18.5 Z" stroke="#8a8a8a"/>
<rect x="-13.2" y="-5" width="26.4" height="27.6" stroke="#666"/>
<line x1="-13.2" y1="-2.2" x2="13.2" y2="-2.2" stroke="#777" stroke-width="0.55"/>
<line x1="-13.2" y1="0.5" x2="13.2" y2="0.5" stroke="#777" stroke-width="0.55"/>
<line x1="-13.2" y1="3.3" x2="13.2" y2="3.3" stroke="#777" stroke-width="0.55"/>
<line x1="-13.2" y1="6.0" x2="13.2" y2="6.0" stroke="#777" stroke-width="0.55"/>
<line x1="-13.2" y1="8.8" x2="13.2" y2="8.8" stroke="#777" stroke-width="0.55"/>
<line x1="-13.2" y1="11.6" x2="13.2" y2="11.6" stroke="#777" stroke-width="0.55"/>
<line x1="-13.2" y1="14.3" x2="13.2" y2="14.3" stroke="#777" stroke-width="0.55"/>
<line x1="-13.2" y1="17.1" x2="13.2" y2="17.1" stroke="#777" stroke-width="0.55"/>
<line x1="-13.2" y1="19.8" x2="13.2" y2="19.8" stroke="#777" stroke-width="0.55"/>
<path d="M-14,-4.2 L-16.4,-19 Q0,-27 16.4,-19 L14,-4.2 Q0,-8 -14,-4.2 Z" stroke="#444"/>
<line x1="-12.8" y1="-20.6" x2="-10.9" y2="-5.0" stroke="#555" stroke-width="0.65"/>
<line x1="-9.1" y1="-21.8" x2="-7.8" y2="-5.5" stroke="#555" stroke-width="0.65"/>
<line x1="-5.5" y1="-22.6" x2="-4.7" y2="-5.9" stroke="#555" stroke-width="0.65"/>
<line x1="-1.8" y1="-23.0" x2="-1.6" y2="-6.1" stroke="#555" stroke-width="0.65"/>
<line x1="1.8" y1="-23.0" x2="1.6" y2="-6.1" stroke="#555" stroke-width="0.65"/>
<line x1="5.5" y1="-22.6" x2="4.7" y2="-5.9" stroke="#555" stroke-width="0.65"/>
<line x1="9.1" y1="-21.8" x2="7.8" y2="-5.5" stroke="#555" stroke-width="0.65"/>
<line x1="12.8" y1="-20.6" x2="10.9" y2="-5.0" stroke="#555" stroke-width="0.65"/>
</g>
<text x="498.4" y="259.85" font-size="10.1" font-weight="bold" text-anchor="middle" fill="#151515" stroke="#151515" stroke-width="0.2" textLength="40.6" lengthAdjust="spacingAndGlyphs">KITCHEN</text>
<line x1="477.7" y1="261.40" x2="519.0999999999999" y2="261.40" stroke="#222" stroke-width="0.95" />
<rect x="492.30" y="264.20" width="12.60" height="9.30" fill="#fff" stroke="#a8a8a8" stroke-width="0.7" />
<text x="498.6" y="271.35" font-size="6.8" text-anchor="middle" fill="#555" textLength="9.7" lengthAdjust="spacingAndGlyphs">101</text>
<text x="526.4" y="527.15" font-size="10.1" font-weight="bold" text-anchor="middle" fill="#151515" stroke="#151515" stroke-width="0.2" textLength="35.6" lengthAdjust="spacingAndGlyphs">DINING</text>
<line x1="508.2" y1="528.70" x2="544.5999999999999" y2="528.70" stroke="#222" stroke-width="0.95" />
<text x="526.4" y="539.35" font-size="10.1" font-weight="bold" text-anchor="middle" fill="#151515" stroke="#151515" stroke-width="0.2" textLength="25.6" lengthAdjust="spacingAndGlyphs">AREA</text>
<line x1="513.2" y1="540.90" x2="539.5999999999999" y2="540.90" stroke="#222" stroke-width="0.95" />
<rect x="520.20" y="543.40" width="12.60" height="9.30" fill="#fff" stroke="#a8a8a8" stroke-width="0.7" />
<text x="526.5" y="550.55" font-size="6.8" text-anchor="middle" fill="#555" textLength="9.7" lengthAdjust="spacingAndGlyphs">102</text>
<text x="713.8" y="516.85" font-size="10.1" font-weight="bold" text-anchor="middle" fill="#151515" stroke="#151515" stroke-width="0.2" textLength="33" lengthAdjust="spacingAndGlyphs">LIVING</text>
<line x1="696.9" y1="518.40" x2="730.6999999999999" y2="518.40" stroke="#222" stroke-width="0.95" />
<text x="713.9" y="528.55" font-size="10.1" font-weight="bold" text-anchor="middle" fill="#151515" stroke="#151515" stroke-width="0.2" textLength="32.2" lengthAdjust="spacingAndGlyphs">ROOM</text>
<line x1="697.4" y1="530.10" x2="730.4" y2="530.10" stroke="#222" stroke-width="0.95" />
<rect x="707.50" y="533.10" width="12.60" height="9.30" fill="#fff" stroke="#a8a8a8" stroke-width="0.7" />
<text x="713.8" y="540.25" font-size="6.8" text-anchor="middle" fill="#555" textLength="9.7" lengthAdjust="spacingAndGlyphs">103</text>
<text x="871.5" y="251.95" font-size="10.1" font-weight="bold" text-anchor="middle" fill="#151515" stroke="#151515" stroke-width="0.2" textLength="29.2" lengthAdjust="spacingAndGlyphs">ENTRY</text>
<line x1="856.5" y1="253.50" x2="886.5" y2="253.50" stroke="#222" stroke-width="0.95" />
<rect x="865.30" y="256.20" width="12.60" height="9.30" fill="#fff" stroke="#a8a8a8" stroke-width="0.7" />
<text x="871.6" y="263.35" font-size="6.8" text-anchor="middle" fill="#555" textLength="9.7" lengthAdjust="spacingAndGlyphs">104</text>
<text x="888.8" y="367.05" font-size="10.1" font-weight="bold" text-anchor="middle" fill="#151515" stroke="#151515" stroke-width="0.2" textLength="30" lengthAdjust="spacingAndGlyphs">PWDR.</text>
<line x1="873.4" y1="368.60" x2="904.1999999999999" y2="368.60" stroke="#222" stroke-width="0.95" />
<rect x="882.40" y="371.40" width="12.60" height="9.30" fill="#fff" stroke="#a8a8a8" stroke-width="0.7" />
<text x="888.7" y="378.55" font-size="6.8" text-anchor="middle" fill="#555" textLength="9.7" lengthAdjust="spacingAndGlyphs">105</text>
<text x="824.9" y="349.05" font-size="10.1" font-weight="bold" text-anchor="middle" fill="#151515" stroke="#151515" stroke-width="0.2" textLength="36" lengthAdjust="spacingAndGlyphs">CLOSET</text>
<line x1="806.5" y1="350.60" x2="843.3" y2="350.60" stroke="#222" stroke-width="0.95" />
<rect x="818.80" y="353.10" width="12.60" height="9.30" fill="#fff" stroke="#a8a8a8" stroke-width="0.7" />
<text x="825.1" y="360.25" font-size="6.8" text-anchor="middle" fill="#555" textLength="9.7" lengthAdjust="spacingAndGlyphs">106</text>
<text x="613.4" y="748.25" font-size="10.1" font-weight="bold" text-anchor="middle" fill="#151515" stroke="#151515" stroke-width="0.2" textLength="55.8" lengthAdjust="spacingAndGlyphs">OPEN DECK</text>
<line x1="585.1" y1="749.80" x2="641.6999999999999" y2="749.80" stroke="#222" stroke-width="0.95" />
<rect x="607.10" y="752.00" width="12.60" height="9.30" fill="#fff" stroke="#a8a8a8" stroke-width="0.7" />
<text x="613.4" y="759.15" font-size="6.8" text-anchor="middle" fill="#555" textLength="9.7" lengthAdjust="spacingAndGlyphs">107</text>
<text x="767.8" y="568.9" font-size="6.6" text-anchor="end" fill="#484848" textLength="36" lengthAdjust="spacingAndGlyphs">SUSPENDED</text>
<text x="767.8" y="577.1" font-size="6.6" text-anchor="end" fill="#484848" textLength="32.2" lengthAdjust="spacingAndGlyphs">FIREPLACE</text></svg></body></html>
